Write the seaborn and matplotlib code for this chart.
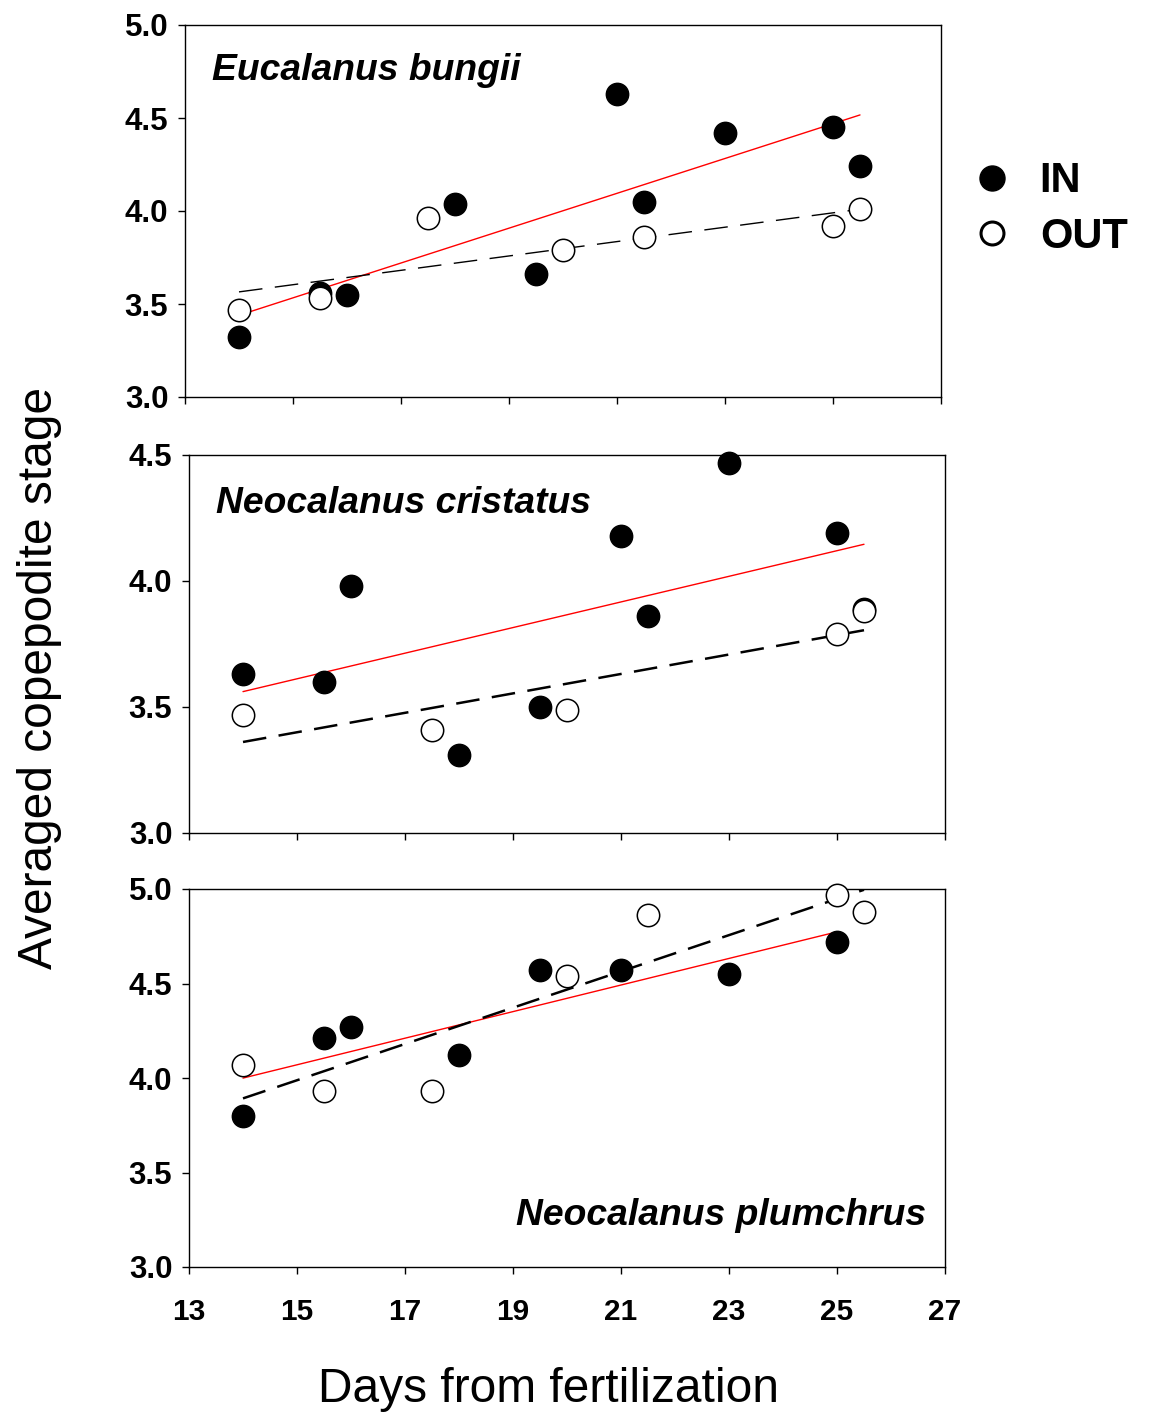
import matplotlib
matplotlib.use("Agg")
import matplotlib.pyplot as plt
import seaborn as sns
from matplotlib.lines import Line2D
from matplotlib.ticker import FormatStrFormatter

sns.set_style("ticks")
plt.rcParams["font.family"] = ["Liberation Sans", "DejaVu Sans"]
plt.rcParams["lines.scale_dashes"] = False
plt.rcParams["text.color"] = "black"
plt.rcParams["axes.labelcolor"] = "black"
plt.rcParams["xtick.color"] = "black"
plt.rcParams["ytick.color"] = "black"
plt.rcParams["axes.edgecolor"] = "black"

# ---------------- data ----------------
species = ["Eucalanus bungii", "Neocalanus cristatus", "Neocalanus plumchrus"]
groups = ["IN", "OUT"]
x_ticks = [13, 15, 17, 19, 21, 23, 25, 27]

eb_in_days = [14, 15.5, 16, 18, 19.5, 21, 21.5, 23, 25, 25.5]
eb_in_stage = [3.32, 3.56, 3.55, 4.04, 3.66, 4.63, 4.05, 4.42, 4.45, 4.24]
eb_out_days = [14, 15.5, 17.5, 20, 21.5, 25, 25.5]
eb_out_stage = [3.47, 3.53, 3.96, 3.79, 3.86, 3.92, 4.01]

nc_in_days = [14, 15.5, 16, 18, 19.5, 21, 21.5, 23, 25, 25.5]
nc_in_stage = [3.63, 3.60, 3.98, 3.31, 3.50, 4.18, 3.86, 4.47, 4.19, 3.89]
nc_out_days = [14, 17.5, 20, 25, 25.5]
nc_out_stage = [3.47, 3.41, 3.49, 3.79, 3.88]

np_in_days = [14, 15.5, 16, 18, 19.5, 21, 23, 25]
np_in_stage = [3.80, 4.21, 4.27, 4.12, 4.57, 4.57, 4.55, 4.72]
np_out_days = [14, 15.5, 17.5, 20, 21.5, 25, 25.5]
np_out_stage = [4.07, 3.93, 3.93, 4.54, 4.86, 4.97, 4.88]

y_limits = [(3.0, 5.0), (3.0, 4.5), (3.0, 5.0)]
y_ticks = [[3.0, 3.5, 4.0, 4.5, 5.0], [3.0, 3.5, 4.0, 4.5], [3.0, 3.5, 4.0, 4.5, 5.0]]

panels = [
    (eb_in_days, eb_in_stage, eb_out_days, eb_out_stage),
    (nc_in_days, nc_in_stage, nc_out_days, nc_out_stage),
    (np_in_days, np_in_stage, np_out_days, np_out_stage),
]

# ---------------- figure ----------------
W, H = 1149, 1420
fig = plt.figure(figsize=(W / 100, H / 100), dpi=100)

def px_axes(left, top, right, bottom):
    return fig.add_axes([left / W, 1 - bottom / H, (right - left) / W, (bottom - top) / H])

axes = [
    px_axes(185, 25, 941, 397),
    px_axes(189, 455, 945, 833),
    px_axes(189, 889, 945, 1267),
]

dash_lw = [1.0, 1.8, 1.8]
label_pos = [(0.036, 0.852, "left"), (0.036, 0.847, "left"), (0.975, 0.111, "right")]

for i, ax in enumerate(axes):
    d_in, s_in, d_out, s_out = panels[i]
    sns.regplot(x=d_in, y=s_in, scatter=False, ci=None, truncate=True, ax=ax,
                line_kws=dict(color="red", lw=1.0, zorder=2))
    sns.regplot(x=d_out, y=s_out, scatter=False, ci=None, truncate=True, ax=ax,
                line_kws=dict(color="black", lw=dash_lw[i], linestyle=(0, (17, 9)), zorder=2))
    sns.scatterplot(x=d_in, y=s_in, ax=ax, color="black", edgecolor="black",
                    s=260, linewidth=1, zorder=3, legend=False, clip_on=False)
    sns.scatterplot(x=d_out, y=s_out, ax=ax, color="white", edgecolor="black",
                    s=260, linewidth=1.1, zorder=4, legend=False, clip_on=False)

    ax.set_xlim(13, 27)
    ax.set_ylim(*y_limits[i])
    ax.set_xticks(x_ticks)
    ax.set_yticks(y_ticks[i])
    ax.yaxis.set_major_formatter(FormatStrFormatter("%.1f"))
    ax.tick_params(axis="both", direction="out", length=5, width=1, color="black")
    ax.tick_params(axis="y", labelsize=22.5, pad=7)
    ax.tick_params(axis="x", labelsize=21.5, pad=17)
    for lab in ax.get_yticklabels() + ax.get_xticklabels():
        lab.set_fontweight("bold")
    if i < 2:
        ax.set_xticklabels([])
    for sp in ax.spines.values():
        sp.set_visible(True)
        sp.set_linewidth(1.0)
        sp.set_color("black")
    ax.set_xlabel("")
    ax.set_ylabel("")
    lx, ly, ha = label_pos[i]
    ax.text(lx, ly, species[i], transform=ax.transAxes, ha=ha, va="baseline",
            fontsize=26.8, fontweight="bold", fontstyle="italic")

fig.text(40 / W, 1 - 678 / H, "Averaged copepodite stage", rotation=90,
         ha="center", va="center", fontsize=34.5)
fig.text(549 / W, 1 - 1390 / H, "Days from fertilization", ha="center", va="center",
         fontsize=34.5)

handles = [
    Line2D([], [], marker="o", ls="none", mfc="black", mec="black", ms=18),
    Line2D([], [], marker="o", ls="none", mfc="white", mec="black", mew=2.2, ms=16.5),
]
fig.legend(handles, groups, loc="center left", bbox_to_anchor=(971 / W, 1 - 209 / H),
           frameon=False, prop=dict(size=30, weight="bold"), handlelength=1.0,
           handletextpad=0.65, labelspacing=0.36, borderpad=0, borderaxespad=0)

fig.savefig("out.png", dpi=100)
